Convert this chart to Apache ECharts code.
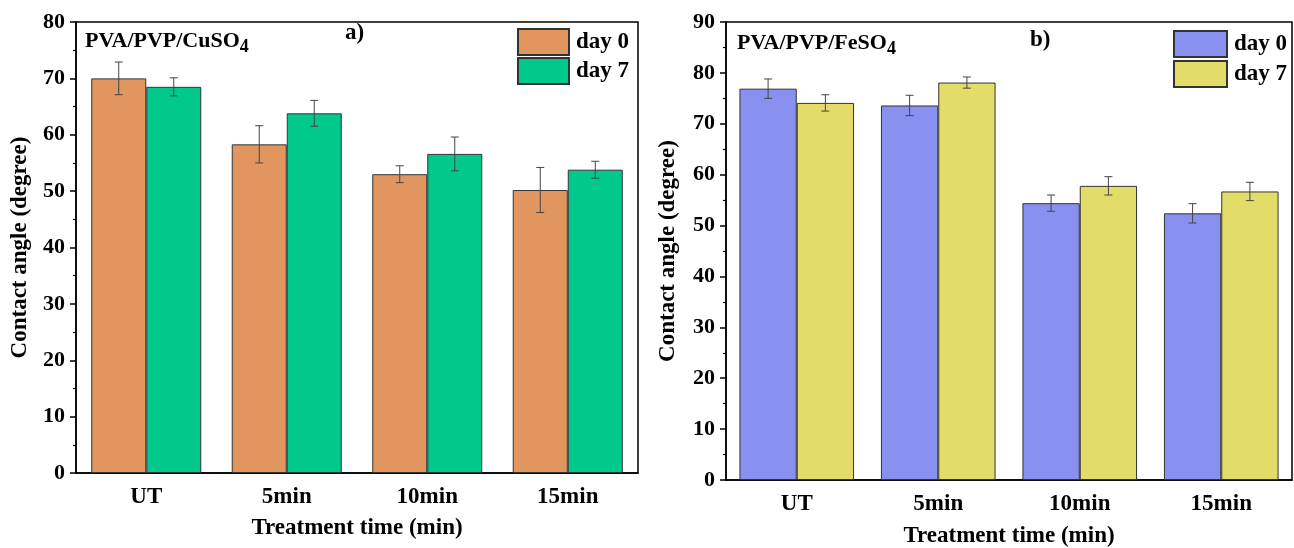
<!DOCTYPE html>
<html>
<head>
<meta charset="utf-8">
<script src="https://cdn.jsdelivr.net/npm/echarts@6/dist/echarts.min.js"></script>
<style>html,body{margin:0;padding:0;background:#fff;}#c{width:1294px;height:548px;}</style>
</head>
<body>
<div id="c"></div>
<script>
// ---- data ----
const categories = ['UT', '5min', '10min', '15min'];
const seriesNames = ['day 0', 'day 7'];
// panel a) PVA/PVP/CuSO4
const cuDay0 = [70.0, 58.3, 53.0, 50.2];
const cuDay0Err = [2.9, 3.3, 1.5, 4.0];
const cuDay7 = [68.5, 63.8, 56.6, 53.8];
const cuDay7Err = [1.6, 2.3, 3.0, 1.5];
// panel b) PVA/PVP/FeSO4
const feDay0 = [76.9, 73.6, 54.4, 52.4];
const feDay0Err = [1.9, 2.0, 1.6, 1.9];
const feDay7 = [74.1, 78.1, 57.8, 56.7];
const feDay7Err = [1.6, 1.1, 1.8, 1.8];
const yMaxA = 80, yMaxB = 90, yInterval = 10;

// ---- styles ----
const FONT = 'Liberation Serif';
const colA = ['#E1965F', '#00C98B'];
const colB = ['#8890F0', '#E3DC68'];
const catGapA = 0.217, catGapB = 0.19;

const chart = echarts.init(document.getElementById('c'), null, {renderer: 'canvas'});

function errSeries(name, xIdx, yIdx, vals, errs, side, gap) {
  return {
    type: 'custom', name: name + '_err', xAxisIndex: xIdx, yAxisIndex: yIdx, z: 5,
    silent: true,
    data: vals.map((v, i) => [i, v - errs[i], v + errs[i]]),
    renderItem: function (params, api) {
      const band = api.size([1, 0])[0];
      const bw = band * (1 - gap) / 2;
      const lo = api.coord([api.value(0), api.value(1)]);
      const hi = api.coord([api.value(0), api.value(2)]);
      const x = lo[0] + side * bw / 2;
      const cap = 4;
      const st = {stroke: '#444', lineWidth: 1};
      return {type: 'group', children: [
        {type: 'line', shape: {x1: x, y1: lo[1], x2: x, y2: hi[1]}, style: st},
        {type: 'line', shape: {x1: x - cap, y1: lo[1], x2: x + cap, y2: lo[1]}, style: st},
        {type: 'line', shape: {x1: x - cap, y1: hi[1], x2: x + cap, y2: hi[1]}, style: st}
      ]};
    }
  };
}

function barSeries(name, xIdx, yIdx, vals, color, gap) {
  return {
    type: 'bar', name: name, xAxisIndex: xIdx, yAxisIndex: yIdx, data: vals,
    barGap: '0%', barCategoryGap: (gap * 100) + '%',
    itemStyle: {color: color, borderColor: '#333', borderWidth: 1},
    emphasis: {disabled: true}
  };
}

function xAxes(gridIdx, nameGap) {
  return [
    {
      type: 'category', gridIndex: gridIdx, data: categories, position: 'bottom',
      axisLine: {lineStyle: {color: '#000', width: 1.5}},
      axisTick: {alignWithLabel: true, length: 6, lineStyle: {color: '#000', width: 1.5}},
      axisLabel: {fontFamily: FONT, fontWeight: 'bold', fontSize: 23, color: '#000', margin: 13},
      name: 'Treatment time (min)', nameLocation: 'middle', nameGap: nameGap,
      nameTextStyle: {fontFamily: FONT, fontWeight: 'bold', fontSize: 23, color: '#000'}
    },
    {
      type: 'category', gridIndex: gridIdx, data: categories, position: 'bottom',
      axisLine: {show: false},
      axisTick: {alignWithLabel: false, length: 4, lineStyle: {color: '#000', width: 1.2}},
      axisLabel: {show: false}
    }
  ];
}

function yAxis(gridIdx, max, nameGap) {
  return {
    type: 'value', gridIndex: gridIdx, min: 0, max: max, interval: yInterval,
    axisLine: {show: true, lineStyle: {color: '#000', width: 1.5}},
    axisTick: {show: true, length: 6, lineStyle: {color: '#000', width: 1.5}},
    minorTick: {show: true, splitNumber: 2, length: 3, lineStyle: {color: '#000', width: 1.2}},
    splitLine: {show: false},
    axisLabel: {fontFamily: FONT, fontWeight: 'bold', fontSize: 22, color: '#000', margin: 11},
    name: 'Contact angle (degree)', nameLocation: 'middle', nameGap: nameGap,
    nameTextStyle: {fontFamily: FONT, fontWeight: 'bold', fontSize: 23, color: '#000'}
  };
}

const legendText = {fontFamily: FONT, fontWeight: 'bold', fontSize: 23, color: '#000', padding: [0, 0, 0, 2]};

const option = {
  animation: false,
  backgroundColor: '#fff',
  grid: [
    {left: 76, top: 22, right: 1294 - 638, bottom: 548 - 473, outerBoundsMode: 'none', containLabel: false,
     show: true, borderColor: '#000', borderWidth: 1.5, backgroundColor: 'transparent'},
    {left: 726, top: 22, right: 2, bottom: 548 - 480, outerBoundsMode: 'none', containLabel: false,
     show: true, borderColor: '#000', borderWidth: 1.5, backgroundColor: 'transparent'}
  ],
  xAxis: xAxes(0, 44).concat(xAxes(1, 45)),
  yAxis: [yAxis(0, yMaxA, 44), yAxis(1, yMaxB, 46)],
  legend: [
    {
      data: ['a:' + seriesNames[0], 'a:' + seriesNames[1]], orient: 'vertical', padding: 0,
      left: 517, top: 28, itemWidth: 51, itemHeight: 26, itemGap: 1,
      icon: 'rect', textStyle: legendText, formatter: n => n.slice(2), selectedMode: false
    },
    {
      data: ['b:' + seriesNames[0], 'b:' + seriesNames[1]], orient: 'vertical', padding: 0,
      left: 1173, top: 30, itemWidth: 53, itemHeight: 26, itemGap: 2,
      icon: 'rect', textStyle: legendText, formatter: n => n.slice(2), selectedMode: false
    }
  ],
  graphic: [
    {type: 'text', left: 85, top: 30, style: {
      text: '{m|PVA/PVP/CuSO}{s|4}',
      rich: {m: {fontFamily: FONT, fontWeight: 'bold', fontSize: 22, fill: '#000'},
             s: {fontFamily: FONT, fontWeight: 'bold', fontSize: 18, fill: '#000', padding: [12, 0, 0, 0]}}}},
    {type: 'text', left: 345, top: 22, style: {text: 'a)', fontFamily: FONT, fontWeight: 'bold', fontSize: 23, fill: '#000'}},
    {type: 'text', left: 737, top: 32, style: {
      text: '{m|PVA/PVP/FeSO}{s|4}',
      rich: {m: {fontFamily: FONT, fontWeight: 'bold', fontSize: 22, fill: '#000'},
             s: {fontFamily: FONT, fontWeight: 'bold', fontSize: 18, fill: '#000', padding: [12, 0, 0, 0]}}}},
    {type: 'text', left: 1030, top: 29, style: {text: 'b)', fontFamily: FONT, fontWeight: 'bold', fontSize: 23, fill: '#000'}}
  ],
  series: [
    barSeries('a:' + seriesNames[0], 0, 0, cuDay0, colA[0], catGapA),
    barSeries('a:' + seriesNames[1], 0, 0, cuDay7, colA[1], catGapA),
    barSeries('b:' + seriesNames[0], 2, 1, feDay0, colB[0], catGapB),
    barSeries('b:' + seriesNames[1], 2, 1, feDay7, colB[1], catGapB),
    errSeries('a0', 0, 0, cuDay0, cuDay0Err, -1, catGapA),
    errSeries('a7', 0, 0, cuDay7, cuDay7Err, 1, catGapA),
    errSeries('b0', 2, 1, feDay0, feDay0Err, -1, catGapB),
    errSeries('b7', 2, 1, feDay7, feDay7Err, 1, catGapB)
  ]
};
chart.setOption(option);
</script>
</body>
</html>
